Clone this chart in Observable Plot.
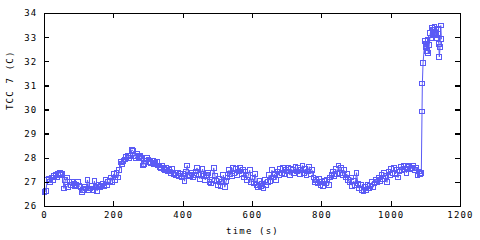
<!DOCTYPE html>
<html>
<head>
<meta charset="utf-8">
<script src="https://cdn.jsdelivr.net/npm/d3@7"></script>
<script src="https://cdn.jsdelivr.net/npm/@observablehq/plot@0.6"></script>
<style>
  html, body { margin: 0; padding: 0; background: #fff; }
  #chart svg { display: block; }
</style>
</head>
<body>
<div id="chart"></div>
<script>
const times = [
  0,4,8,12,16,20,24,28,32,36,
  40,44,48,52,56,60,64,68,72,76,
  80,84,88,92,96,100,104,108,112,116,
  120,124,128,132,136,140,144,148,152,156,
  160,164,168,172,176,180,184,188,192,196,
  200,204,208,212,216,220,224,228,232,236,
  240,244,248,252,256,260,264,268,272,276,
  280,284,288,292,296,300,304,308,312,316,
  320,324,328,332,336,340,344,348,352,356,
  360,364,368,372,376,380,384,388,392,396,
  400,404,408,412,416,420,424,428,432,436,
  440,444,448,452,456,460,464,468,472,476,
  480,484,488,492,496,500,504,508,512,516,
  520,524,528,532,536,540,544,548,552,556,
  560,564,568,572,576,580,584,588,592,596,
  600,604,608,612,616,620,624,628,632,636,
  640,644,648,652,656,660,664,668,672,676,
  680,684,688,692,696,700,704,708,712,716,
  720,724,728,732,736,740,744,748,752,756,
  760,764,768,772,776,780,784,788,792,796,
  800,804,808,812,816,820,824,828,832,836,
  840,844,848,852,856,860,864,868,872,876,
  880,884,888,892,896,900,904,908,912,916,
  920,924,928,932,936,940,944,948,952,956,
  960,964,968,972,976,980,984,988,992,996,
  1000,1004,1008,1012,1016,1020,1024,1028,1032,1036,
  1040,1044,1048,1052,1056,1060,1064,1068,1072,1076,
  1080,1084,1087,1089,1090,1092,
  1097,1099,1101,1103,1105,1107,1110,1113,1115,1117,
  1119,1121,1123,1125,1127,1129,1131,1133,1135,1137,
  1139,1141,1143,1145
];
const tcc7 = [
  26.6,26.65,27.1,27.15,27.0,27.2,27.1,27.25,27.3,27.2,
  27.35,27.4,27.3,27.35,26.75,27.1,27.2,26.8,27.0,26.9,
  27.0,26.95,26.85,26.9,27.0,26.85,26.8,26.6,26.7,26.8,
  26.75,27.1,26.7,26.75,26.85,26.7,27.05,26.8,26.65,26.9,
  26.8,26.85,26.95,26.85,27.1,26.9,27.0,27.05,27.2,27.0,
  27.35,27.1,27.4,27.2,27.5,27.85,27.75,27.9,27.95,28.05,
  28.1,28.0,28.1,28.35,28.3,28.1,28.0,28.2,28.05,28.1,
  28.0,27.7,27.75,27.9,28.0,27.95,27.85,27.8,27.9,27.75,
  27.8,27.85,27.7,27.65,27.6,27.7,27.55,27.5,27.6,27.45,
  27.5,27.4,27.55,27.35,27.4,27.3,27.4,27.25,27.35,27.2,
  27.35,27.05,27.45,27.7,27.3,27.25,27.4,27.2,27.3,27.45,
  27.6,27.3,27.15,27.35,27.55,27.25,27.1,27.3,27.4,27.0,
  26.95,27.1,27.6,27.25,27.05,26.9,27.15,26.85,27.0,27.3,
  26.8,27.05,27.2,27.5,27.35,27.25,27.6,27.4,27.55,27.3,
  27.45,27.6,27.35,27.5,27.2,27.45,27.1,27.3,27.5,27.0,
  27.2,26.95,27.35,26.9,26.8,27.05,26.85,26.95,26.75,27.1,
  26.9,27.0,27.3,27.05,27.5,27.2,27.35,27.1,27.45,27.3,
  27.55,27.4,27.6,27.35,27.5,27.45,27.6,27.3,27.55,27.5,
  27.4,27.65,27.45,27.6,27.35,27.5,27.7,27.4,27.55,27.3,
  27.45,27.65,27.35,27.5,27.2,27.0,27.1,26.95,27.15,26.9,
  27.0,26.85,27.05,26.95,27.1,26.9,27.2,27.3,27.45,27.25,
  27.55,27.35,27.7,27.4,27.6,27.3,27.5,27.2,27.35,27.1,
  27.0,27.2,26.85,27.05,26.9,27.4,26.95,26.75,26.9,26.7,
  26.65,26.8,26.7,26.9,26.75,26.85,27.0,26.8,26.95,27.1,
  27.0,27.2,27.05,27.3,27.15,27.4,27.25,27.0,27.45,27.3,
  27.55,27.4,27.6,27.35,27.5,27.2,27.45,27.65,27.5,27.7,
  27.55,27.4,27.65,27.7,27.55,27.6,27.7,27.5,27.6,27.3,
  27.45,27.35,27.4,29.94,31.1,31.95,
  32.85,32.6,32.75,32.45,32.9,32.35,32.7,33.2,33.0,33.4,
  33.1,33.3,33.15,33.45,33.2,33.1,33.3,33.0,33.35,32.75,
  32.2,32.6,33.5,32.95
];
const xTicks = [0, 200, 400, 600, 800, 1000, 1200];
const yTicks = [26, 27, 28, 29, 30, 31, 32, 33, 34];
const xLabel = "time (s)";
const yLabel = "TCC 7 (C)";

const data = times.map((t, i) => ({t, v: tcc7[i]}));
const color = "#5a5af5";

const W = 480, H = 240, mL = 44, mR = 20, mT = 13, mB = 34;
const plotW = W - mL - mR, plotH = H - mT - mB, tick = 5;

const chart = Plot.plot({
  width: W,
  height: H,
  marginLeft: mL,
  marginRight: mR,
  marginTop: mT,
  marginBottom: mB,
  style: {fontFamily: "'DejaVu Sans Mono', monospace", fontSize: "9px", color: "#000", background: "#fff", letterSpacing: "1.2px"},
  x: {domain: [0, 1200], axis: null},
  y: {domain: [26, 34], axis: null},
  marks: [
    Plot.line(data, {x: "t", y: "v", stroke: color, strokeWidth: 1}),
    Plot.dot(data, {x: "t", y: "v", symbol: "square", r: 2.7, stroke: color, fill: "none", strokeWidth: 1, shapeRendering: "crispEdges"}),
    Plot.tickX(xTicks, {x: d => d, insetTop: plotH - tick, stroke: "#000", strokeWidth: 1.3, shapeRendering: "crispEdges"}),
    Plot.tickX(xTicks, {x: d => d, insetBottom: plotH - tick, stroke: "#000", strokeWidth: 1.3, shapeRendering: "crispEdges"}),
    Plot.tickY(yTicks, {y: d => d, insetRight: plotW - tick, stroke: "#000", strokeWidth: 1.3, shapeRendering: "crispEdges"}),
    Plot.tickY(yTicks, {y: d => d, insetLeft: plotW - tick, stroke: "#000", strokeWidth: 1.3, shapeRendering: "crispEdges"}),
    Plot.text(xTicks, {x: d => d, frameAnchor: "bottom", dy: 11, text: d => String(d), fill: "#000"}),
    Plot.text(yTicks, {y: d => d, frameAnchor: "left", dx: -7, textAnchor: "end", text: d => String(d), fill: "#000"}),
    Plot.frame({stroke: "#000", strokeWidth: 1.3, shapeRendering: "crispEdges"}),
    Plot.text([xLabel], {frameAnchor: "bottom", dy: 27, text: d => d, fill: "#000"}),
    Plot.text([yLabel], {frameAnchor: "left", dx: -34, rotate: -90, text: d => d, fill: "#000"})
  ]
});
document.getElementById("chart").appendChild(chart);
</script>
</body>
</html>
